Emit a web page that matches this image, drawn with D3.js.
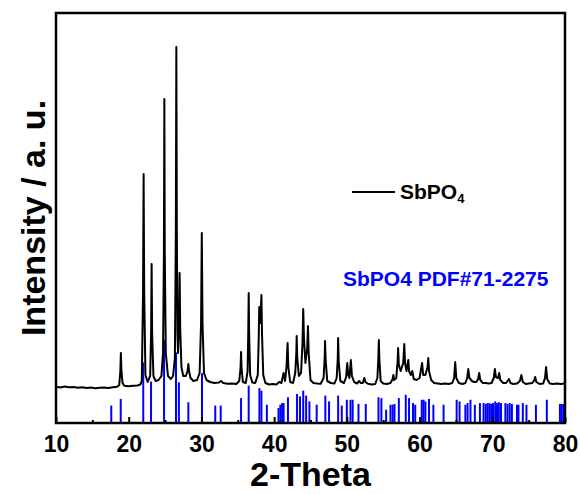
<!DOCTYPE html>
<html>
<head>
<meta charset="utf-8">
<script src="https://cdn.jsdelivr.net/npm/d3@7/dist/d3.min.js"></script>
<style>
  html, body { margin: 0; padding: 0; background: #fff; }
  svg { display: block; }
  text { font-family: "Liberation Sans", Arial, Helvetica, sans-serif; font-weight: bold; }
</style>
</head>
<body>
<svg id="chart" width="580" height="494"></svg>
<script>
// Measured XRD scan of SbPO4: [2-theta (deg), counts]
const scan = [
  [10.0, 362], [10.6, 355], [11.2, 364], [11.8, 357], [12.4, 360], [13.0, 352],
  [13.6, 358], [14.2, 350], [14.8, 355], [15.4, 348], [16.0, 353], [16.6, 356],
  [17.2, 350], [17.8, 358], [18.4, 362], [18.7, 380], [18.85, 520], [18.92, 700],
  [19.0, 520], [19.15, 400], [19.4, 372], [20.0, 368], [20.6, 372], [21.2, 375],
  [21.6, 385], [21.8, 420], [21.97, 1300], [22.05, 2490], [22.13, 1300], [22.3, 480],
  [22.6, 410], [22.95, 470], [23.08, 900], [23.15, 1590], [23.22, 900], [23.4, 470],
  [23.7, 420], [24.1, 430], [24.5, 470], [24.72, 700], [24.84, 1700], [24.9, 3240],
  [24.96, 1700], [25.1, 700], [25.4, 470], [25.8, 440], [26.1, 470], [26.35, 650],
  [26.48, 1900], [26.55, 3760], [26.62, 1900], [26.7, 900], [26.78, 700], [26.92, 1000],
  [27.0, 1500], [27.08, 950], [27.25, 560], [27.5, 470], [27.85, 470], [28.1, 520],
  [28.2, 590], [28.3, 520], [28.5, 450], [28.9, 420], [29.4, 430], [29.75, 500],
  [29.95, 1000], [30.05, 1900], [30.15, 1000], [30.35, 500], [30.7, 430], [31.2, 410],
  [31.8, 400], [32.4, 405], [32.7, 420], [33.0, 400], [33.6, 392], [34.2, 395],
  [34.8, 390], [35.2, 420], [35.38, 550], [35.45, 710], [35.52, 550], [35.7, 410],
  [36.1, 400], [36.35, 520], [36.44, 900], [36.5, 1300], [36.56, 900], [36.7, 480],
  [37.0, 405], [37.4, 400], [37.75, 480], [37.88, 850], [37.95, 1160], [38.05, 1000],
  [38.15, 1100], [38.25, 1280], [38.33, 900], [38.5, 480], [38.8, 400], [39.3, 385],
  [39.8, 390], [40.3, 385], [40.7, 410], [41.0, 400], [41.3, 500], [41.5, 420],
  [41.7, 560], [41.85, 800], [41.95, 560], [42.2, 410], [42.6, 400], [42.9, 500],
  [43.05, 700], [43.1, 870], [43.18, 650], [43.4, 470], [43.7, 500], [43.9, 800],
  [44.0, 1140], [44.1, 850], [44.3, 600], [44.55, 750], [44.65, 970], [44.75, 700],
  [45.0, 430], [45.4, 400], [45.9, 395], [46.4, 392], [46.8, 450], [46.95, 650],
  [47.0, 820], [47.08, 640], [47.3, 420], [47.8, 400], [48.3, 395], [48.6, 450],
  [48.75, 650], [48.8, 850], [48.88, 620], [49.1, 420], [49.6, 400], [49.9, 460],
  [50.05, 600], [50.2, 480], [50.35, 450], [50.55, 630], [50.7, 470], [51.0, 410],
  [51.4, 395], [51.7, 420], [51.9, 400], [52.2, 400], [52.4, 450], [52.55, 410],
  [52.9, 392], [53.4, 385], [53.9, 390], [54.2, 450], [54.33, 650], [54.4, 830],
  [54.47, 640], [54.65, 420], [55.0, 395], [55.5, 390], [56.0, 400], [56.3, 440],
  [56.4, 480], [56.5, 430], [56.8, 450], [56.98, 620], [57.05, 750], [57.15, 580],
  [57.4, 520], [57.75, 600], [57.9, 790], [58.0, 600], [58.2, 520], [58.45, 630],
  [58.55, 520], [58.8, 480], [59.0, 520], [59.2, 440], [59.6, 430], [60.0, 450],
  [60.35, 600], [60.5, 480], [60.8, 480], [61.1, 560], [61.2, 650], [61.3, 520],
  [61.6, 430], [62.0, 400], [62.5, 395], [63.0, 390], [63.5, 395], [64.0, 390],
  [64.5, 400], [64.75, 450], [64.9, 610], [65.05, 450], [65.4, 400], [65.9, 390],
  [66.3, 400], [66.55, 450], [66.7, 540], [66.85, 450], [67.2, 420], [67.5, 410],
  [67.8, 410], [68.05, 440], [68.2, 500], [68.35, 430], [68.7, 400], [69.1, 400],
  [69.5, 395], [69.9, 400], [70.2, 450], [70.35, 540], [70.5, 460], [70.8, 450],
  [70.95, 500], [71.1, 430], [71.5, 400], [71.9, 400], [72.3, 440], [72.5, 400],
  [72.9, 390], [73.4, 395], [73.8, 420], [74.0, 480], [74.2, 410], [74.6, 390],
  [75.0, 395], [75.5, 400], [75.8, 430], [75.9, 460], [76.05, 410], [76.5, 390],
  [77.0, 395], [77.25, 450], [77.4, 560], [77.55, 440], [77.9, 395], [78.4, 390],
  [78.9, 395], [79.4, 390], [80.0, 395]
];

// Reference pattern, PDF#71-2275: line positions (deg) and relative intensities (%)
const refAngle = [
  17.6, 18.9, 22.0, 23.07, 24.86, 26.5, 26.9, 28.2, 30.08, 31.9, 32.65,
  35.45, 36.5, 37.97, 38.25, 39.0, 40.6, 40.85, 41.1, 41.3, 41.9,
  43.15, 43.56, 44.0, 44.4, 44.85, 45.85, 47.04, 47.55, 48.8, 49.3,
  50.0, 50.5, 50.8, 51.6, 52.6, 54.35, 54.75, 55.4, 56.0, 56.3, 56.55,
  57.15, 58.1, 58.55, 59.1, 59.4, 60.3, 60.55, 60.8, 61.3, 61.9, 63.3,
  65.1, 65.5, 66.3, 66.6, 67.0, 67.6, 68.3, 68.8, 69.1, 69.35, 69.6, 69.85,
  70.1, 70.4, 70.65, 70.9, 71.2, 71.8, 72.1, 72.4, 72.7, 73.4, 73.6,
  74.2, 74.7, 76.0, 77.5, 79.3, 79.55, 79.8
];
const refIntensity = [
  21, 29, 73, 50, 100, 85, 49, 25, 60, 21, 21,
  30, 45, 42, 39, 22, 18, 22, 24, 24, 31,
  35, 32, 39, 33, 26, 22, 33, 26, 33, 21,
  28, 28, 28, 23, 23, 31, 30, 16, 22, 22, 23,
  30, 34, 30, 24, 22, 28, 28, 26, 29, 22, 22,
  28, 26, 22, 24, 28, 22, 24, 24, 23, 24, 24, 23,
  24, 26, 24, 25, 24, 24, 23, 24, 23, 22, 22,
  24, 22, 22, 28, 23, 23, 23
];

// Axis ticks
const majorTicks = [10, 20, 30, 40, 50, 60, 70, 80];
const minorTicks = [15, 25, 35, 45, 55, 65, 75];

const svg = d3.select("#chart");
const margin = { left: 56, top: 13, right: 15, bottom: 71 };
const W = 580, H = 494;
const x0 = margin.left, x1 = W - margin.right;
const y0 = H - margin.bottom, y1 = margin.top;

const x = d3.scaleLinear().domain([10, 80]).range([x0, x1]);
const y = d3.scaleLinear().domain([0, 4100]).range([y0, y1]);
const yRef = d3.scaleLinear().domain([0, 100]).range([y0, y0 - 83]);

svg.append("defs").append("clipPath").attr("id", "plotArea")
  .append("rect").attr("x", x0).attr("y", y1).attr("width", x1 - x0).attr("height", y0 - y1);

const plot = svg.append("g").attr("clip-path", "url(#plotArea)");

// reference sticks
plot.selectAll("line.ref")
  .data(refAngle.map((a, i) => [a, refIntensity[i]]))
  .join("line")
  .attr("class", "ref")
  .attr("x1", d => x(d[0])).attr("x2", d => x(d[0]))
  .attr("y1", y0).attr("y2", d => yRef(d[1]))
  .attr("stroke", "#0000ff")
  .attr("stroke-width", 2);

// measured pattern
plot.append("path")
  .datum(scan)
  .attr("d", d3.line().x(d => x(d[0])).y(d => y(d[1])))
  .attr("fill", "none")
  .attr("stroke", "#000")
  .attr("stroke-width", 2)
  .attr("stroke-linejoin", "round");

// bottom axis ticks (pointing inward)
const xAxis = d3.axisBottom(x).tickValues(majorTicks).tickSize(-6).tickPadding(13)
  .tickFormat(d3.format("d"));
const gx = svg.append("g").attr("transform", `translate(0,${y0})`).call(xAxis);
gx.select(".domain").remove();
gx.selectAll(".tick line").attr("stroke", "#000").attr("stroke-width", 2);
gx.selectAll(".tick text").attr("font-size", 23).attr("fill", "#000")
  .attr("font-family", "Liberation Sans, Arial, sans-serif").attr("font-weight", "bold")
  .attr("dy", "0.71em");

const xMinor = d3.axisBottom(x).tickValues(minorTicks).tickSize(-3).tickFormat("");
const gxm = svg.append("g").attr("transform", `translate(0,${y0})`).call(xMinor);
gxm.select(".domain").remove();
gxm.selectAll(".tick line").attr("stroke", "#000").attr("stroke-width", 2);

// frame
svg.append("rect")
  .attr("x", x0).attr("y", y1).attr("width", x1 - x0).attr("height", y0 - y1)
  .attr("fill", "none").attr("stroke", "#000").attr("stroke-width", 2.5);

// axis titles
svg.append("text")
  .attr("x", (x0 + x1) / 2).attr("y", 486)
  .attr("text-anchor", "middle").attr("font-size", 34).attr("fill", "#000")
  .text("2-Theta");

svg.append("text")
  .attr("transform", `translate(45,${(y0 + y1) / 2}) rotate(-90)`)
  .attr("text-anchor", "middle").attr("font-size", 34).attr("fill", "#000")
  .text("Intensity / a. u.");

// legend
svg.append("line")
  .attr("x1", 352).attr("x2", 395).attr("y1", 192).attr("y2", 192)
  .attr("stroke", "#000").attr("stroke-width", 2);
const leg = svg.append("text").attr("x", 400).attr("y", 199).attr("font-size", 21).attr("fill", "#000");
leg.append("tspan").text("SbPO");
leg.append("tspan").attr("font-size", 13).attr("dy", 4).text("4");

svg.append("text")
  .attr("x", 343).attr("y", 286).attr("font-size", 21).attr("fill", "#0000ff")
  .text("SbPO4 PDF#71-2275");
</script>
</body>
</html>
